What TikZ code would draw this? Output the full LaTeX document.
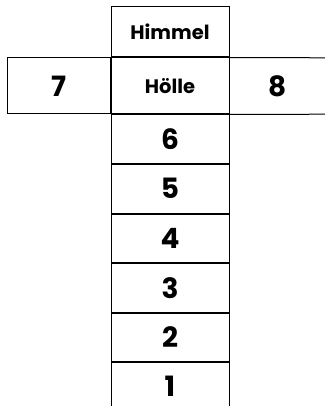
\documentclass[tikz,border=0pt]{standalone}
\usepackage{fontspec}
\setmainfont{Poppins}
\usepackage{tikz}
\usetikzlibrary{positioning}

\tikzset{
  cell/.style={draw, line width=1pt, inner sep=0pt, minimum width=118pt},
  wordlab/.style={font=\fontsize{19.5}{19.5}\selectfont\bfseries},
  numlab/.style={font=\fontsize{28}{28}\selectfont\bfseries}
}

\begin{document}
\begin{tikzpicture}[x=1pt, y=-1pt]
  \useasboundingbox (0,0) rectangle (324,406);
  % the column
  \node[cell, wordlab, minimum height=50pt] (himmel) at (170,32) {Himmel};
  \node[cell, wordlab, minimum height=56pt, below=0pt of himmel] (hoelle) {Hölle};
  \node[cell, numlab, minimum height=48.5pt, below=0pt of hoelle] (n6) {6};
  \foreach \k/\prev in {5/6, 4/5, 3/4, 2/3, 1/2} {
    \node[cell, numlab, minimum height=48.5pt, below=0pt of n\prev] (n\k) {\k};
  }
  % side boxes
  \node[cell, numlab, minimum width=103pt, minimum height=56pt, left=0pt of hoelle] (sieben) {7};
  \node[numlab, inner sep=0pt, minimum width=95pt, minimum height=56pt, right=0pt of hoelle] (acht) {8};
  \draw[line width=1pt] (hoelle.north east) -- (acht.north east);
  \draw[line width=1pt] (hoelle.south east) -- (acht.south east);
\end{tikzpicture}
\end{document}
